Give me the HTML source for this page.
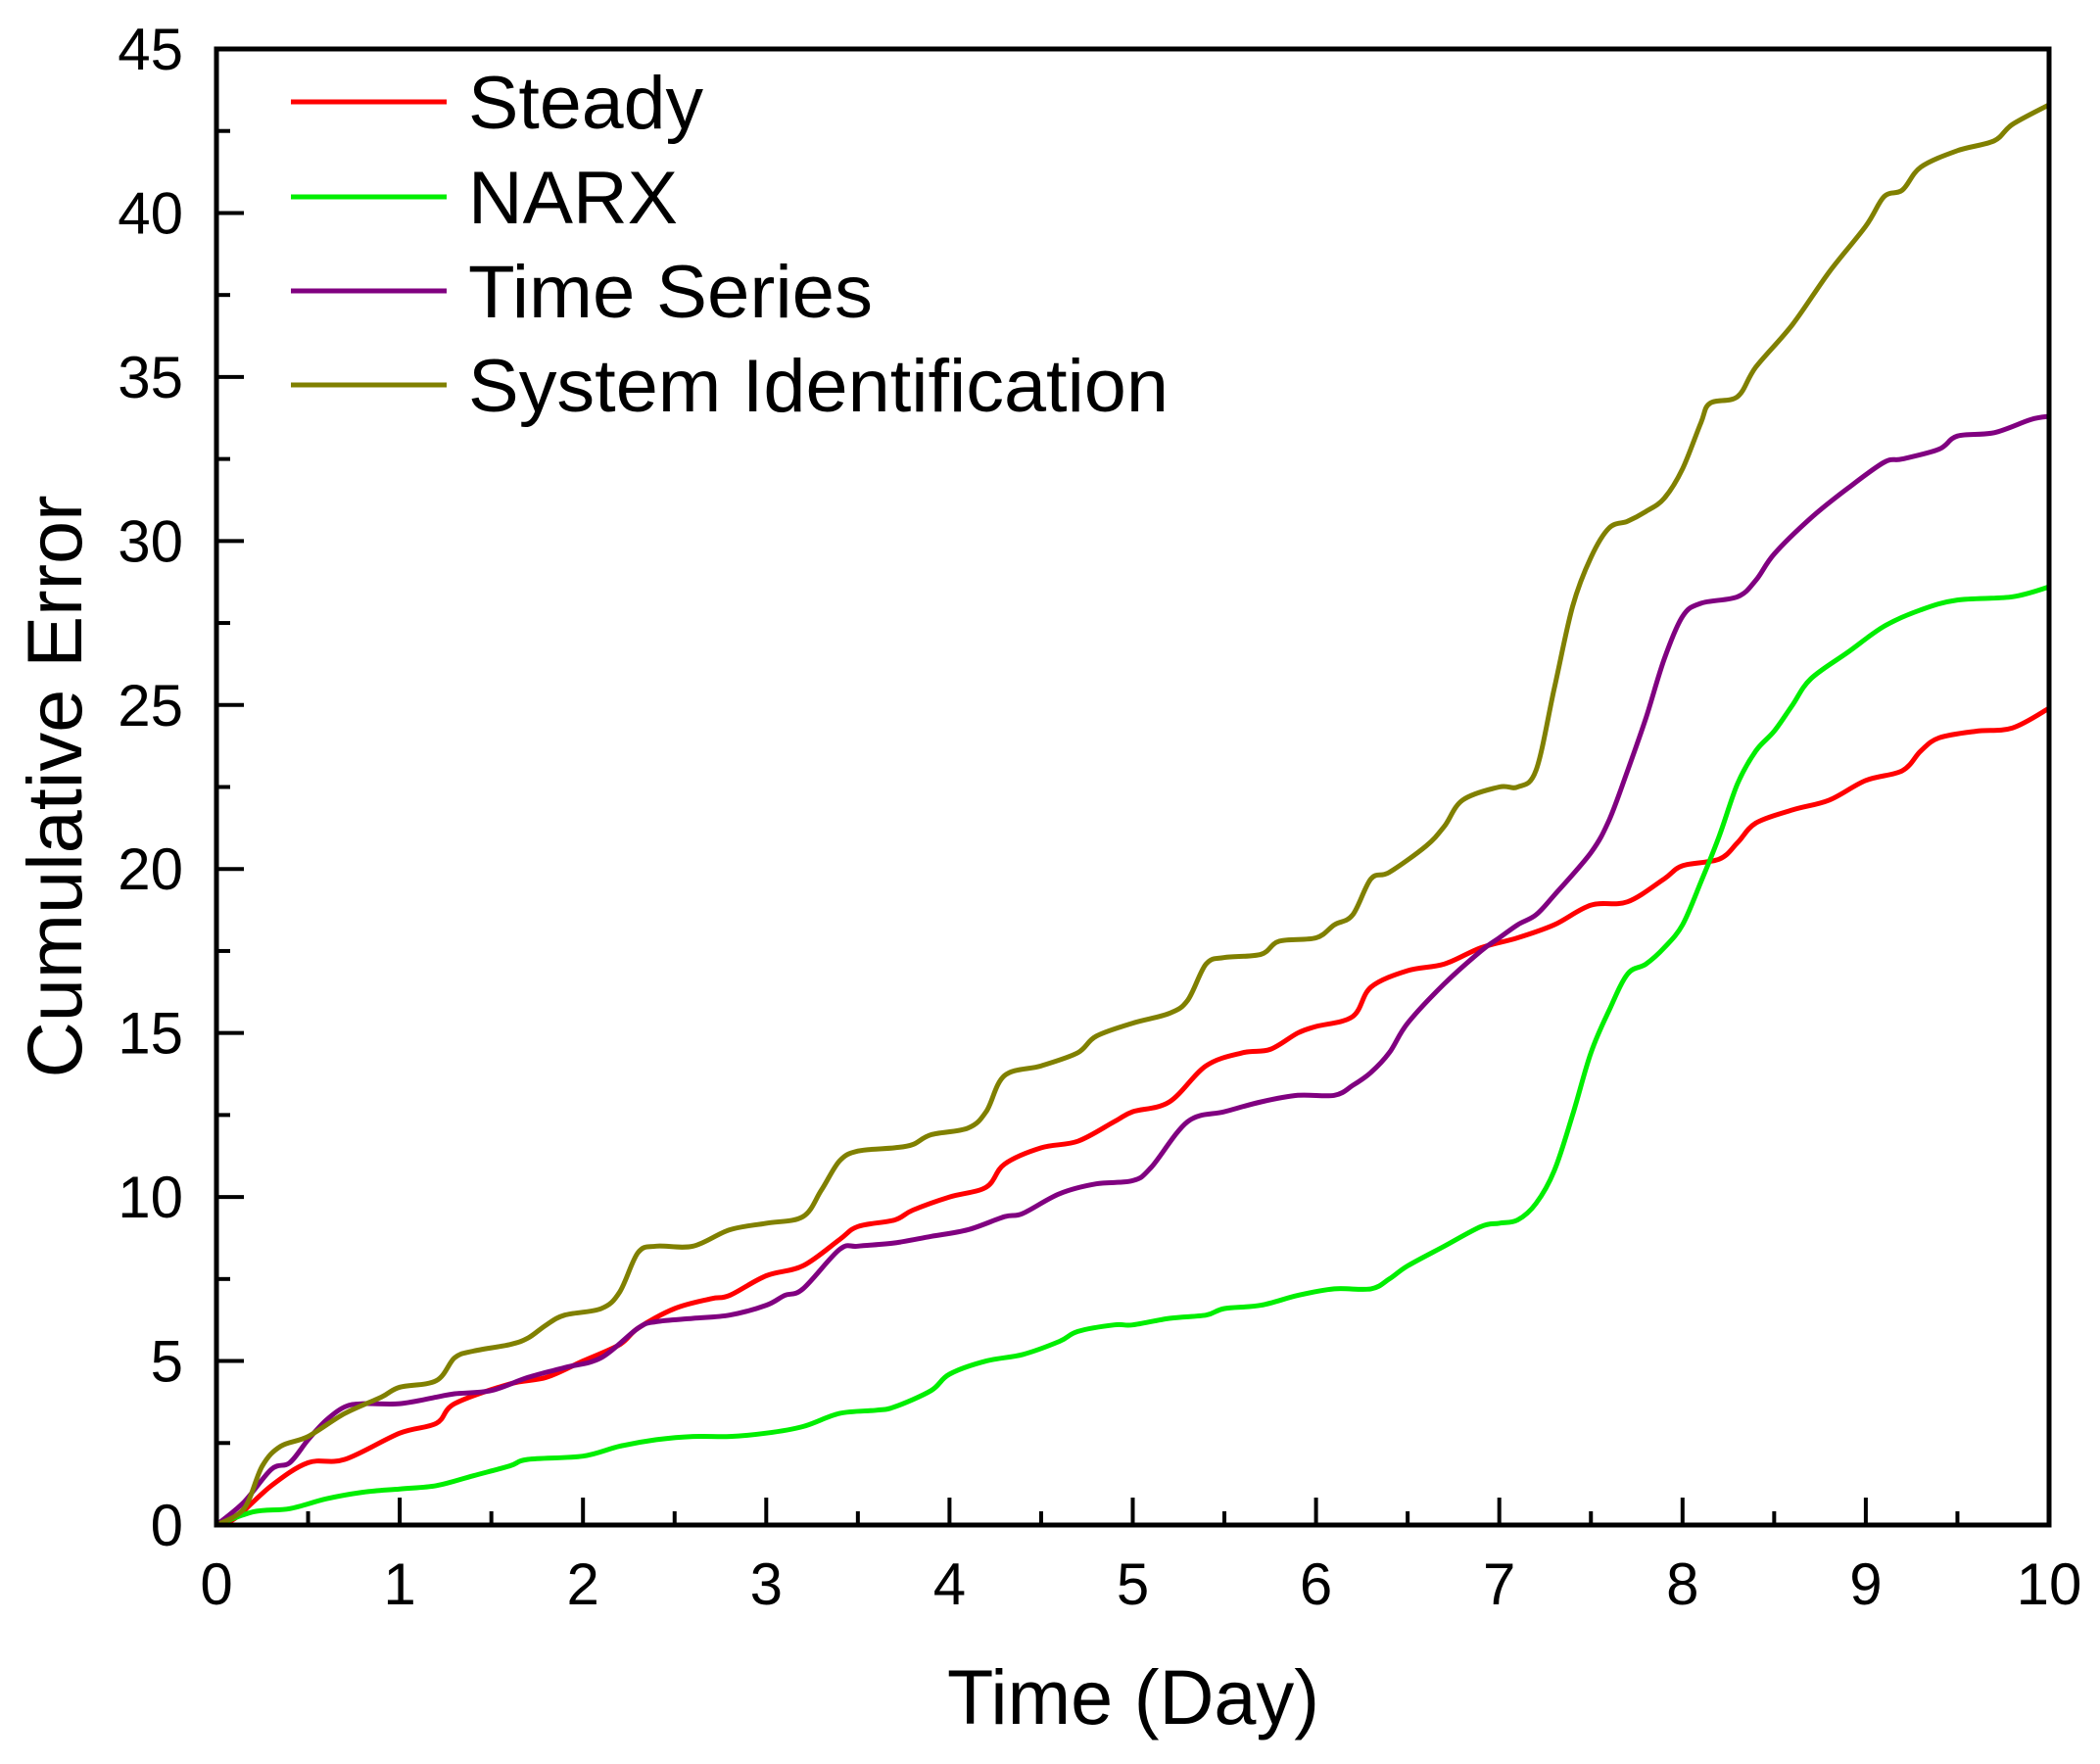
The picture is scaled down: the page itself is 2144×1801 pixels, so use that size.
<!DOCTYPE html>
<html><head><meta charset="utf-8"><style>
html,body{margin:0;padding:0;background:#fff;}
svg{display:block;font-family:"Liberation Sans",Arial,sans-serif;}
</style></head><body>
<svg id="chart" width="2144" height="1801" viewBox="0 0 2144 1801" xmlns="http://www.w3.org/2000/svg">
<g id="plot"></g>
<g id="axes"></g>
<text x="1157" y="1760" font-size="79" text-anchor="middle" textLength="380" lengthAdjust="spacingAndGlyphs">Time (Day)</text>
<text x="0" y="0" font-size="79" text-anchor="middle" transform="translate(83,803) rotate(-90)" textLength="595" lengthAdjust="spacingAndGlyphs">Cumulative Error</text>
<g id="legend"></g>
</svg>
<script>
const seriesNames = ["Steady","NARX","Time Series","System Identification"];
const seriesColors = ["#ff0000","#00ee00","#800080","#808000"];
const xTickLabels = ["0","1","2","3","4","5","6","7","8","9","10"];
const yTickLabels = ["0","5","10","15","20","25","30","35","40","45"];
const steadyX = [0,0.1,0.3,0.5,0.7,1.0,1.2,1.3,1.6,1.8,2.0,2.2,2.3,2.5,2.7,2.8,3.0,3.2,3.4,3.5,3.7,3.8,4.0,4.2,4.3,4.5,4.7,4.9,5.0,5.2,5.4,5.6,5.75,5.9,6.0,6.2,6.3,6.5,6.7,6.9,7.1,7.3,7.5,7.7,7.9,8.0,8.2,8.3,8.4,8.6,8.8,9.0,9.2,9.3,9.4,9.6,9.8,10];
const steadyY = [0,0.2,1.2,1.9,2.0,2.8,3.1,3.7,4.3,4.5,5.0,5.5,6.0,6.6,6.9,7.0,7.6,7.9,8.7,9.1,9.3,9.6,10.0,10.3,11.0,11.5,11.7,12.3,12.6,12.9,14.0,14.4,14.5,15.0,15.2,15.5,16.4,16.9,17.1,17.6,17.9,18.3,18.9,19.0,19.7,20.1,20.3,20.8,21.4,21.8,22.1,22.7,23.0,23.6,24.0,24.2,24.3,24.9];
const narxX = [0,0.2,0.4,0.6,0.8,1.0,1.2,1.4,1.6,1.7,2.0,2.2,2.4,2.6,2.8,3.0,3.2,3.4,3.6,3.7,3.9,4.0,4.2,4.4,4.6,4.7,4.9,5.0,5.2,5.4,5.5,5.7,5.9,6.1,6.3,6.4,6.5,6.7,6.9,7.0,7.1,7.2,7.3,7.4,7.5,7.6,7.7,7.8,7.9,8.0,8.1,8.2,8.3,8.4,8.5,8.6,8.7,8.9,9.1,9.3,9.5,9.8,10];
const narxY = [0,0.4,0.5,0.8,1.0,1.1,1.2,1.5,1.8,2.0,2.1,2.4,2.6,2.7,2.7,2.8,3.0,3.4,3.5,3.6,4.1,4.6,5.0,5.2,5.6,5.9,6.1,6.1,6.3,6.4,6.6,6.7,7.0,7.2,7.2,7.5,7.9,8.5,9.1,9.2,9.3,9.8,10.8,12.5,14.4,15.7,16.8,17.1,17.6,18.3,19.6,21.0,22.6,23.6,24.2,25.0,25.8,26.6,27.4,27.9,28.2,28.3,28.6];
const tsX = [0,0.15,0.3,0.4,0.5,0.6,0.7,0.8,1.0,1.2,1.3,1.5,1.7,1.9,2.1,2.3,2.4,2.6,2.8,3.0,3.1,3.2,3.4,3.5,3.7,3.9,4.1,4.3,4.4,4.6,4.8,5.0,5.1,5.3,5.5,5.7,5.9,6.1,6.2,6.3,6.4,6.5,6.7,6.9,7.0,7.1,7.2,7.3,7.5,7.6,7.7,7.8,7.9,8.0,8.1,8.3,8.4,8.5,8.7,8.9,9.1,9.2,9.4,9.5,9.7,9.9,10];
const tsY = [0,0.7,1.7,1.9,2.6,3.2,3.6,3.7,3.7,3.9,4.0,4.1,4.5,4.8,5.1,6.0,6.2,6.3,6.4,6.7,7.0,7.2,8.4,8.5,8.6,8.8,9.0,9.4,9.5,10.1,10.4,10.5,10.9,12.3,12.6,12.9,13.1,13.1,13.4,13.8,14.4,15.3,16.5,17.5,17.9,18.3,18.6,19.2,20.5,21.5,23.0,24.6,26.4,27.7,28.1,28.3,28.8,29.6,30.7,31.6,32.4,32.5,32.8,33.2,33.3,33.7,33.8];
const siX = [0,0.15,0.25,0.35,0.5,0.7,0.9,1.0,1.2,1.3,1.4,1.6,1.7,1.8,1.9,2.1,2.2,2.3,2.4,2.6,2.8,3.0,3.2,3.3,3.4,3.5,3.7,3.8,3.9,4.1,4.2,4.3,4.5,4.7,4.8,5.0,5.2,5.3,5.4,5.5,5.7,5.8,6.0,6.1,6.2,6.3,6.4,6.6,6.7,6.8,7.0,7.1,7.2,7.3,7.4,7.5,7.6,7.7,7.8,7.9,8.0,8.1,8.15,8.3,8.4,8.6,8.8,9.0,9.1,9.2,9.3,9.5,9.7,9.8,10];
const siY = [0,0.5,1.8,2.4,2.7,3.4,3.9,4.2,4.4,5.1,5.3,5.5,5.7,6.1,6.4,6.6,7.1,8.3,8.5,8.5,9.0,9.2,9.4,10.2,11.1,11.4,11.5,11.6,11.9,12.1,12.6,13.7,14.0,14.4,14.9,15.3,15.6,16.0,17.1,17.3,17.4,17.8,17.9,18.3,18.6,19.7,19.9,20.7,21.3,22.1,22.5,22.5,23.0,25.5,28.0,29.5,30.4,30.6,30.9,31.3,32.2,33.6,34.2,34.4,35.3,36.6,38.2,39.6,40.5,40.7,41.4,41.9,42.2,42.7,43.3];

const L=221,R=2092,T=50,B=1557, XMAX=10, YMAX=45;
function sx(v){return L+(v/XMAX)*(R-L);}
function sy(v){return B-(v/YMAX)*(B-T);}
const NS="http://www.w3.org/2000/svg";
function mk(tag,attrs,parent){const e=document.createElementNS(NS,tag);for(const k in attrs)e.setAttribute(k,attrs[k]);parent.appendChild(e);return e;}
function smoothPath(xs,ys){
  const p=xs.map((x,i)=>[sx(x),sy(ys[i])]);
  let d="M"+p[0][0].toFixed(1)+","+p[0][1].toFixed(1);
  for(let i=0;i<p.length-1;i++){
    const p0=p[i-1]||p[i],p1=p[i],p2=p[i+1],p3=p[i+2]||p2;
    const c1=[p1[0]+(p2[0]-p0[0])/6,p1[1]+(p2[1]-p0[1])/6];
    const c2=[p2[0]-(p3[0]-p1[0])/6,p2[1]-(p3[1]-p1[1])/6];
    d+="C"+c1[0].toFixed(1)+","+c1[1].toFixed(1)+" "+c2[0].toFixed(1)+","+c2[1].toFixed(1)+" "+p2[0].toFixed(1)+","+p2[1].toFixed(1);
  }
  return d;
}
const plot=document.getElementById('plot');
const allX=[steadyX,narxX,tsX,siX], allY=[steadyY,narxY,tsY,siY];
const lineNames=['steady-line','narx-line','time-series-line','system-identification-line'];
for(let s=0;s<4;s++){
  const el=mk('path',{d:smoothPath(allX[s],allY[s]),fill:'none',stroke:seriesColors[s],'stroke-width':5,'stroke-linejoin':'round','stroke-linecap':'round'},plot);
  
  
}
const axes=document.getElementById('axes');
const frame=mk('rect',{x:L,y:T,width:R-L,height:B-T,fill:'none',stroke:'#000','stroke-width':5},axes);


for(let i=0;i<=20;i++){
  const v=i*0.5, x=sx(v), len=(i%2===0)?28:14;
  const t=mk('line',{x1:x,y1:B,x2:x,y2:B-len,stroke:'#000','stroke-width':4},axes);
  
  
}
xTickLabels.forEach((lab,i)=>{
  const t=mk('text',{x:sx(i),y:1638,'font-size':60,'text-anchor':'middle'},axes);
  t.textContent=lab;
  
  
});
for(let i=0;i<=18;i++){
  const v=i*2.5, y=sy(v), len=(i%2===0)?28:14;
  const t=mk('line',{x1:L,y1:y,x2:L+len,y2:y,stroke:'#000','stroke-width':4},axes);
  
  
}
yTickLabels.forEach((lab,i)=>{
  const t=mk('text',{x:187,y:sy(i*5)+21,'font-size':60,'text-anchor':'end'},axes);
  t.textContent=lab;
  
  
});
const legend=document.getElementById('legend');
const legY=[104,201,297,393];
const legLen=[240,214,413,715];
for(let s=0;s<4;s++){
  const g=mk('g',{},legend);
  
  
  mk('line',{x1:297,y1:legY[s],x2:456,y2:legY[s],stroke:seriesColors[s],'stroke-width':5},g);
  const t=mk('text',{x:478,y:legY[s]+27,'font-size':76,textLength:legLen[s],lengthAdjust:'spacingAndGlyphs'},g);
  t.textContent=seriesNames[s];
  
  
}
</script>
</body></html>
